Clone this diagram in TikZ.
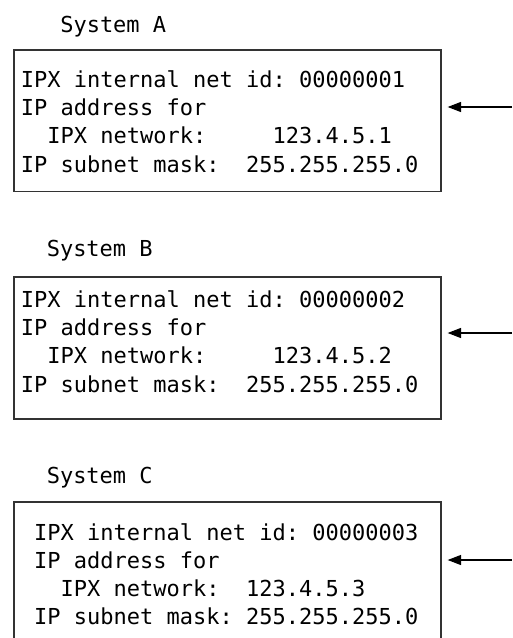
\documentclass[tikz,border=0pt]{standalone}
\usepackage{fontspec}
\newfontfamily\codefont{DejaVu Sans Mono}
\usetikzlibrary{arrows.meta,fit}
\begin{document}
\begin{tikzpicture}[x=0.75pt,y=-0.75pt,
  sysbox/.style={draw=black!80, line width=1pt, inner sep=0pt, rectangle},
  txt/.style={anchor=base west, inner sep=0pt, font=\codefont\fontsize{16.5}{20}\selectfont\frenchspacing},
  arr/.style={line width=0.8pt, -{Triangle[length=10pt,width=7.5pt]}, shorten >=4.5pt}]
\clip (0,0) rectangle (512,638);
% System A
\node[txt] (la) at (60,32.7) {System A};
\node[sysbox, fit={(14,50) (441,191.5)}] (boxA) {};
\node[txt] (a1) at (20.7,87.5) {IPX internal net id: 00000001};
\node[txt] (a2) at (20.7,115.7) {IP address for};
\node[txt] (a3) at (20.7,143.9) {\phantom{00}IPX network:\phantom{00000}123.4.5.1};
\node[txt] (a4) at (20.7,172.1) {IP subnet mask:\phantom{00}255.255.255.0};
\coordinate (inA) at (512,107);
\draw[arr] (inA) -- (boxA.east |- inA);
% System B
\node[txt] (lb) at (46.5,256.7) {System B};
\node[sysbox, fit={(14,277) (441,419)}] (boxB) {};
\node[txt] (b1) at (20.7,307.5) {IPX internal net id: 00000002};
\node[txt] (b2) at (20.7,335.7) {IP address for};
\node[txt] (b3) at (20.7,363.9) {\phantom{00}IPX network:\phantom{00000}123.4.5.2};
\node[txt] (b4) at (20.7,392.1) {IP subnet mask:\phantom{00}255.255.255.0};
\coordinate (inB) at (512,333);
\draw[arr] (inB) -- (boxB.east |- inB);
% System C
\node[txt] (lc) at (46.5,483) {System C};
\node[sysbox, fit={(14,502) (441,680)}] (boxC) {};
\node[txt] (c1) at (20.7,540) {\phantom{0}IPX internal net id: 00000003};
\node[txt] (c2) at (20.7,568) {\phantom{0}IP address for};
\node[txt] (c3) at (20.7,596) {\phantom{000}IPX network:\phantom{00}123.4.5.3};
\node[txt] (c4) at (20.7,624) {\phantom{0}IP subnet mask:\phantom{0}255.255.255.0};
\coordinate (inC) at (512,560);
\draw[arr] (inC) -- (boxC.east |- inC);
\end{tikzpicture}
\end{document}
